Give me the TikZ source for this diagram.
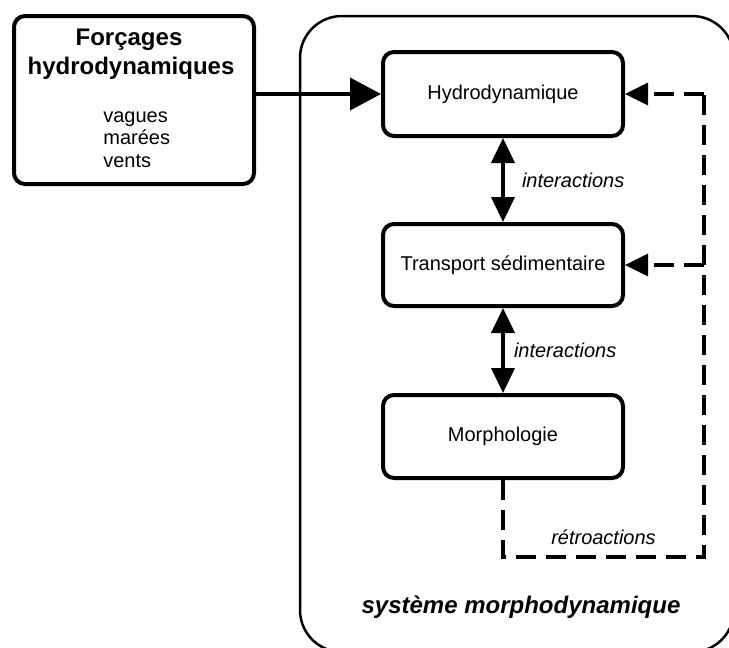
\documentclass[tikz,border=0pt]{standalone}
\usepackage{fontspec}
\setmainfont{Liberation Sans}
\usetikzlibrary{arrows.meta,positioning}

\tikzset{every picture/.style={line width=0.75pt}}
\tikzset{
	boite/.style={draw, line width=4pt, rounded corners=11pt, minimum width=240pt, minimum height=84pt, inner sep=0pt, font=\fontsize{20}{24}\selectfont},
	texte/.style={inner sep=0pt, font=\fontsize{20}{22.5}\selectfont},
	fleche/.style={line width=4pt, -{Triangle[length=31pt,width=32pt]}},
	interaction/.style={line width=4pt, {Triangle[length=25pt,width=23pt]}-{Triangle[length=25pt,width=23pt]}},
	retro/.style={line width=3.5pt, dash pattern=on 20pt off 10pt},
	retrofleche/.style={retro, -{Triangle[length=23pt,width=22pt]}}
}

\begin{document}
\begin{tikzpicture}[x=1pt,y=1pt,yscale=-1,xscale=1]
	\useasboundingbox (0,0) rectangle (729,648);

	% cadre du systeme
	\node (systeme) [draw, line width=2.5pt, rounded corners=42pt, minimum width=434pt, minimum height=636pt, inner sep=0pt] at (517,334) {};
	\node (titre) [texte, font=\fontsize{24}{28}\selectfont\bfseries\itshape] at (521,607) {système morphodynamique};

	% forcages
	\node (forcages) [boite, minimum height=168pt] at (134,100) {};
	\node (forc1) [texte, font=\fontsize{24}{28}\selectfont\bfseries] at (129,40) {Forçages};
	\node (forc2) [texte, font=\fontsize{24}{28}\selectfont\bfseries] at (131,68) {hydrodynamiques};
	\node (liste) [texte, anchor=north west, align=left] at (103,111) {vagues\\marées\\vents};

	% compartiments
	\node (hydro) [boite] at (503,94) {Hydrodynamique};
	\node (transport) [boite, minimum height=82pt] at (503,265) {Transport sédimentaire};
	\node (morpho) [boite, minimum height=83pt] at (503,436.5) {Morphologie};

	% fleches
	\draw [fleche] (forcages.east |- hydro.west) -- (hydro.west);
	\draw [interaction] (hydro.south) -- node [texte, right=17pt, font=\fontsize{20}{24}\selectfont\itshape] (int1) {interactions} (transport.north);
	\draw [interaction] (transport.south) -- node [texte, right=9pt, font=\fontsize{20}{24}\selectfont\itshape] (int2) {interactions} (morpho.north);

	% retroactions
	\coordinate (coinB) at (704,557);
	\coordinate (coinH) at (704,94);
	\draw [retro] (morpho.south) -- (morpho.south |- coinB) -- node [texte, above=11pt, font=\fontsize{20}{24}\selectfont\itshape] (retrotxt) {rétroactions} (coinB) -- (coinH);
	\draw [retrofleche] (coinH) -- (hydro.east);
	\draw [retrofleche] (transport.east -| coinB) -- (transport.east);

\end{tikzpicture}
\end{document}
